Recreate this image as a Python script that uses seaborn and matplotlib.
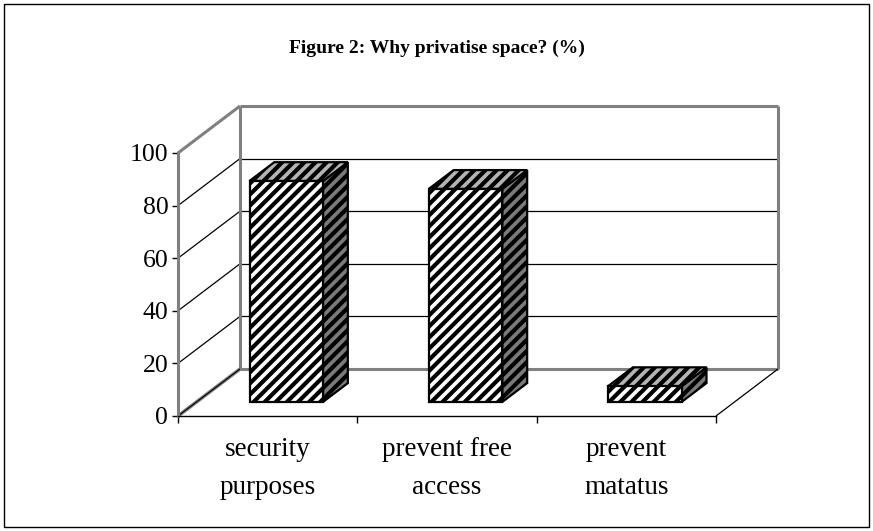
import matplotlib
matplotlib.use("Agg")
import matplotlib.pyplot as plt
import seaborn as sns
from matplotlib.patches import Polygon, Rectangle
from matplotlib.lines import Line2D

# ---- data ----
categories = ["security\npurposes", "prevent free\naccess", "prevent\nmatatus"]
values = [84, 81, 6]
yticks = [0, 20, 40, 60, 80, 100]
title = "Figure 2: Why privatise space? (%)"

sns.set_theme(style="white")
plt.rcParams['font.family'] = ['Liberation Serif', 'DejaVu Serif']
plt.rcParams['hatch.linewidth'] = 3.0
plt.rcParams['hatch.color'] = 'black'

W, H = 873, 531
fig = plt.figure(figsize=(W / 100, H / 100), dpi=100)
fig.patch.set_facecolor('white')
x0, x1, y0, y1 = 178, 716, 416, 153
ax = fig.add_axes([x0 / W, 1 - y0 / H, (x1 - x0) / W, (y0 - y1) / H])
ax.patch.set_alpha(0)

n = len(categories)
xmin, xmax = -0.5, n - 0.5
ymin, ymax = yticks[0], yticks[-1]

# oblique depth projection (full depth offset in pixels -> data units)
DX_PX, DY_PX = 62, 47
du_x = DX_PX / ((x1 - x0) / n)
du_y = DY_PX / ((y0 - y1) / (ymax - ymin))


def proj(x, y, d):
    return (x + du_x * d, y + du_y * d)


GRAY = '#808080'


def seg(p, q, color, lw, z=1):
    ax.add_line(Line2D([p[0], q[0]], [p[1], q[1]], color=color, lw=lw,
                       zorder=z, clip_on=False, solid_capstyle='butt'))


# ---- walls ----
for v in yticks[1:-1]:
    seg(proj(xmin, v, 1), proj(xmax, v, 1), 'black', 0.9)
    seg(proj(xmin, v, 0), proj(xmin, v, 1), 'black', 0.9)
seg(proj(xmin, ymin, 1), proj(xmin, ymax, 1), GRAY, 2.2)
seg(proj(xmax, ymin, 1), proj(xmax, ymax, 1), GRAY, 2.2)
seg(proj(xmin, ymax, 1), proj(xmax, ymax, 1), GRAY, 2.2)
seg(proj(xmin, ymin, 1), proj(xmax, ymin, 1), GRAY, 2.2)
seg(proj(xmin, ymax, 0), proj(xmin, ymax, 1), GRAY, 2.2)
seg(proj(xmin, ymin, 0), proj(xmin, ymin, 1), GRAY, 2.6)
seg(proj(xmin, ymin, 0), proj(xmin, ymin, 1), 'black', 0.8, 2)
seg(proj(xmax, ymin, 0), proj(xmax, ymin, 1), 'black', 0.9)

# ---- bars (front faces via seaborn) ----
sns.barplot(x=categories, y=values, width=0.41, color='white', saturation=1,
            edgecolor='black', linewidth=1.6, hatch='///', ax=ax, zorder=3)
ax.set_xlim(xmin, xmax)
ax.set_ylim(ymin, ymax)

D0, D1 = 0.3, 0.7
for p in list(ax.patches):
    x = p.get_x()
    w = p.get_width()
    h = p.get_height()
    p.set_x(x + du_x * D0)
    p.set_y(du_y * D0)
    p.set_clip_on(False)
    p.set_zorder(4)
    side = Polygon([proj(x + w, 0, D0), proj(x + w, 0, D1),
                    proj(x + w, h, D1), proj(x + w, h, D0)],
                   closed=True, facecolor='#7a7a7a', edgecolor='black',
                   lw=1.6, hatch='///', zorder=3, clip_on=False)
    top = Polygon([proj(x, h, D0), proj(x + w, h, D0),
                   proj(x + w, h, D1), proj(x, h, D1)],
                  closed=True, facecolor='#b4b4b4', edgecolor='black',
                  lw=1.6, hatch='///', zorder=3, clip_on=False)
    ax.add_patch(side)
    ax.add_patch(top)

# ---- axes styling ----
ax.set_xlabel('')
ax.set_ylabel('')
ax.set_yticks(yticks)
ax.set_yticklabels([str(v) for v in yticks], fontsize=18.5)
ax.tick_params(axis='y', which='major', left=True, length=4, width=1,
               color='black', pad=3, direction='out', labelcolor='black')
ax.set_xticks(range(n))
ax.set_xticklabels(categories, fontsize=19.5, linespacing=1.7)
ax.tick_params(axis='x', which='major', length=0, pad=15, labelcolor='black')
ax.set_xticks([i - 0.5 for i in range(n + 1)], minor=True)
ax.tick_params(axis='x', which='minor', bottom=True, length=5, width=1,
               color='black', direction='out')
for s in ['top', 'right']:
    ax.spines[s].set_visible(False)
ax.spines['left'].set_color(GRAY)
ax.spines['left'].set_linewidth(2.2)
ax.spines['bottom'].set_color('black')
ax.spines['bottom'].set_linewidth(1.0)
ax.grid(False)

# ---- title and outer frame ----
fig.text(437 / W, 1 - 48 / H, title, ha='center', va='center',
         fontsize=14, fontweight='bold', color='black')
fig.add_artist(Rectangle((4 / W, 4 / H), (869 - 4) / W, (527 - 4) / H,
                         transform=fig.transFigure, fill=False,
                         edgecolor='black', lw=1))

fig.savefig('out.png', dpi=100)
